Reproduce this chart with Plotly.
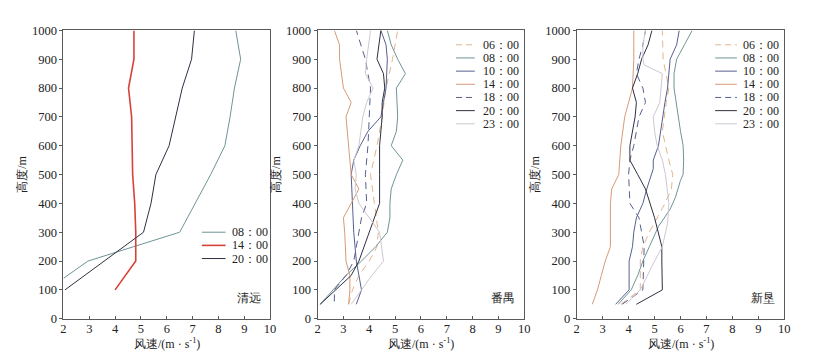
import plotly.graph_objects as go

# ---------------- data ----------------
times_qy = ["08：00", "14：00", "20：00"]
qy_08_h = [140, 200, 300, 400, 500, 600, 700, 800, 900, 1000]
qy_08_v = [2.0, 2.95, 6.5, 7.1, 7.7, 8.25, 8.45, 8.62, 8.86, 8.67]
qy_14_h = [100, 200, 300, 400, 500, 600, 700, 800, 900, 1000]
qy_14_v = [4.0, 4.8, 4.8, 4.76, 4.68, 4.65, 4.64, 4.52, 4.73, 4.73]
qy_20_h = [100, 300, 400, 500, 600, 700, 800, 900, 1000]
qy_20_v = [2.06, 5.1, 5.39, 5.58, 6.09, 6.35, 6.6, 6.96, 7.07]

times = ["06：00", "08：00", "10：00", "14：00", "18：00", "20：00", "23：00"]

# 番禺
py_06_h = [50, 100, 150, 200, 250, 300, 400, 500, 600, 700, 800, 900, 1000]
py_06_v = [3.2, 3.35, 3.6, 4.0, 4.3, 4.35, 4.2, 4.05, 4.3, 4.5, 4.65, 4.9, 5.1]
py_08_h = [50, 100, 150, 200, 250, 300, 350, 400, 450, 500, 550, 600, 650, 700, 800, 850, 900, 950, 1000]
py_08_v = [2.1, 2.6, 3.1, 3.7, 4.25, 4.7, 4.8, 4.8, 4.85, 5.05, 5.3, 4.85, 5.05, 5.1, 5.05, 5.4, 5.1, 4.85, 4.7]
py_10_h = [50, 100, 150, 200, 300, 400, 450, 500, 550, 600, 650, 700, 750, 800, 900, 950, 1000]
py_10_v = [3.5, 3.7, 3.6, 3.5, 3.4, 3.35, 3.3, 3.3, 3.4, 3.65, 3.95, 4.45, 4.55, 4.65, 4.7, 4.65, 4.45]
py_14_h = [50, 100, 150, 200, 300, 350, 400, 450, 500, 600, 700, 750, 800, 900, 950, 1000]
py_14_v = [3.2, 3.25, 3.25, 3.1, 3.05, 3.0, 3.3, 3.6, 3.3, 3.2, 3.1, 3.3, 3.0, 2.85, 2.85, 2.65]
py_18_h = [60, 100, 150, 200, 300, 350, 400, 500, 600, 700, 800, 900, 1000]
py_18_v = [2.65, 2.65, 3.1, 3.4, 3.6, 3.7, 3.9, 3.85, 3.95, 4.0, 4.05, 3.85, 3.5]
py_20_h = [50, 100, 150, 200, 300, 400, 500, 600, 700, 750, 800, 850, 900, 1000]
py_20_v = [2.1, 2.7, 3.3, 3.6, 4.0, 4.4, 4.4, 4.4, 4.5, 4.5, 4.6, 4.55, 4.3, 4.45]
py_23_h = [50, 100, 150, 200, 300, 400, 450, 500, 550, 600, 700, 750, 800, 850, 900, 1000]
py_23_v = [3.3, 3.7, 4.1, 4.55, 4.4, 3.6, 3.45, 3.5, 3.4, 3.6, 3.75, 3.9, 4.15, 3.85, 3.9, 4.05]

# 新垦
xk_06_h = [50, 100, 200, 250, 300, 400, 450, 500, 550, 650, 750, 800, 900, 1000]
xk_06_v = [3.7, 4.45, 4.45, 4.55, 4.8, 5.4, 5.65, 5.7, 5.55, 5.3, 5.45, 5.55, 5.33, 5.3]
xk_08_h = [50, 100, 150, 200, 250, 320, 380, 420, 480, 500, 550, 600, 650, 750, 800, 850, 900, 950, 1000]
xk_08_v = [3.6, 4.1, 4.35, 4.55, 4.8, 5.15, 5.6, 5.8, 6.0, 6.1, 6.12, 6.1, 6.0, 5.85, 5.75, 5.75, 5.85, 6.15, 6.45]
xk_10_h = [50, 100, 200, 250, 300, 350, 400, 450, 520, 550, 600, 700, 750, 800, 900, 950, 1000]
xk_10_v = [3.5, 4.02, 4.02, 4.15, 4.2, 4.3, 4.55, 4.7, 4.95, 4.95, 5.15, 5.3, 5.4, 5.5, 5.6, 5.85, 5.95]
xk_14_h = [50, 100, 150, 200, 250, 400, 450, 500, 600, 700, 800, 900, 1000]
xk_14_v = [2.6, 2.8, 2.95, 3.1, 3.3, 3.3, 3.35, 3.62, 3.7, 3.85, 4.15, 4.2, 4.2]
xk_18_h = [50, 100, 250, 350, 400, 500, 550, 600, 650, 700, 750, 800, 850, 900, 950, 1000]
xk_18_v = [3.75, 4.55, 4.6, 4.4, 4.05, 4.0, 4.05, 4.2, 4.3, 4.4, 4.65, 4.55, 4.3, 4.4, 4.55, 4.65]
xk_20_h = [50, 100, 200, 250, 350, 450, 500, 550, 600, 700, 750, 800, 850, 900, 950, 1000]
xk_20_v = [4.3, 5.3, 5.28, 5.28, 5.0, 4.65, 4.35, 4.05, 4.05, 4.25, 4.3, 4.15, 4.35, 4.5, 4.75, 4.9]
xk_23_h = [50, 100, 200, 250, 330, 400, 500, 550, 600, 650, 700, 750, 800, 850, 880, 900, 950, 1000]
xk_23_v = [3.9, 4.45, 5.0, 5.3, 5.5, 5.55, 5.42, 5.3, 5.1, 5.0, 4.95, 5.2, 5.25, 5.3, 4.6, 4.55, 4.55, 4.65]

site_names = ["清远", "番禺", "新垦"]
x_ticks = [2, 3, 4, 5, 6, 7, 8, 9, 10]
y_ticks = [0, 100, 200, 300, 400, 500, 600, 700, 800, 900, 1000]

# ---------------- styles ----------------
style7 = [
    dict(color="#e2b48c", width=1, dash="7px,5px"),
    dict(color="#6f9496", width=1, dash="solid"),
    dict(color="#56608e", width=1, dash="solid"),
    dict(color="#d79a78", width=1, dash="solid"),
    dict(color="#56608e", width=1, dash="7px,5px"),
    dict(color="#2e3040", width=1, dash="solid"),
    dict(color="#cfc6d2", width=1, dash="solid"),
]
style3 = [
    dict(color="#6f9496", width=1, dash="solid"),
    dict(color="#d8413a", width=1.6, dash="solid"),
    dict(color="#2e3040", width=1, dash="solid"),
]

W, H = 815, 360
serif = "Liberation Serif"
txtcol = "#222"
axcol = "#5a5a5a"

fig = go.Figure()

panels = [
    ("", times_qy, [(qy_08_v, qy_08_h), (qy_14_v, qy_14_h), (qy_20_v, qy_20_h)], style3),
    ("2", times, [(py_06_v, py_06_h), (py_08_v, py_08_h), (py_10_v, py_10_h), (py_14_v, py_14_h),
                  (py_18_v, py_18_h), (py_20_v, py_20_h), (py_23_v, py_23_h)], style7),
    ("3", times, [(xk_06_v, xk_06_h), (xk_08_v, xk_08_h), (xk_10_v, xk_10_h), (xk_14_v, xk_14_h),
                  (xk_18_v, xk_18_h), (xk_20_v, xk_20_h), (xk_23_v, xk_23_h)], style7),
]
for sx, names, sets, styles in panels:
    for name, (v, h), st in zip(names, sets, styles):
        fig.add_trace(go.Scatter(x=v, y=h, mode="lines", name=name, line=st,
                                 xaxis="x" + sx, yaxis="y" + sx, showlegend=False))

doms = [(53, 262), (310, 519), (572, 782)]
ydom = [(360 - 316) / H, (360 - 16) / H]

layout = dict(
    width=W, height=H, margin=dict(l=0, r=0, t=0, b=0),
    paper_bgcolor="white", plot_bgcolor="white",
    font=dict(family=serif, size=12, color=txtcol),
    showlegend=False,
)
for i, (a, b) in enumerate(doms):
    sx = "" if i == 0 else str(i + 1)
    layout["xaxis" + sx] = dict(
        domain=[a / W, b / W], range=[2, 10], tickvals=x_ticks,
        showgrid=False, zeroline=False, showline=True, mirror=True,
        linecolor=axcol, linewidth=1, ticks="inside", ticklen=3, tickcolor=axcol,
        tickfont=dict(family=serif, size=12.5, color=txtcol),
        ticklabelstandoff=-2,
        anchor="y" + sx,
    )
    layout["yaxis" + sx] = dict(
        domain=ydom, range=[0, 1000], tickvals=y_ticks,
        showgrid=False, zeroline=False, showline=True, mirror=True,
        linecolor=axcol, linewidth=1, ticks="outside", ticklen=3, tickcolor=axcol,
        tickfont=dict(family=serif, size=12.5, color=txtcol),
        anchor="x" + sx,
        title=dict(text="高度/m", font=dict(family=serif, size=12, color=txtcol), standoff=2),
    )
fig.update_layout(**layout)

for i, ((a, b), name) in enumerate(zip(doms, site_names)):
    sx = "" if i == 0 else str(i + 1)
    # site labels
    fig.add_annotation(text=name, xref="x" + sx + " domain", yref="y" + sx + " domain",
                       x=0.965, y=0.04, xanchor="right", yanchor="bottom", showarrow=False,
                       font=dict(family=serif, size=12, color=txtcol))
    # x-axis titles
    fig.add_annotation(text="风速/(m · s<sup>-1</sup>)", xref="paper", yref="paper",
                       x=(a + b) / 2 / W, y=1 - 342 / H, xanchor="center", yanchor="middle",
                       showarrow=False, font=dict(family=serif, size=12, color=txtcol))

# hand-drawn legends (paper coordinates, pixel based)
legend_specs = [
    (times_qy, style3, 193, 217, 221, 226),
    (times, style7, 450, 469, 475, 31),
    (times, style7, 712, 734, 738, 31),
]
step = 13.7
for names, styles, lx0, lx1, tx, ty0 in legend_specs:
    for k, (name, st) in enumerate(zip(names, styles)):
        yy = ty0 + k * step
        yp = 1 - yy / H
        dash = "solid" if st["dash"] == "solid" else "6px,4px"
        fig.add_shape(type="line", xref="paper", yref="paper",
                      x0=lx0 / W, x1=lx1 / W, y0=yp, y1=yp,
                      line=dict(color=st["color"], width=st["width"], dash=dash))
        fig.add_annotation(text=name, xref="paper", yref="paper", x=tx / W, y=yp,
                           xanchor="left", yanchor="middle", showarrow=False,
                           font=dict(family=serif, size=12, color=txtcol))

fig.write_html("out.html")
